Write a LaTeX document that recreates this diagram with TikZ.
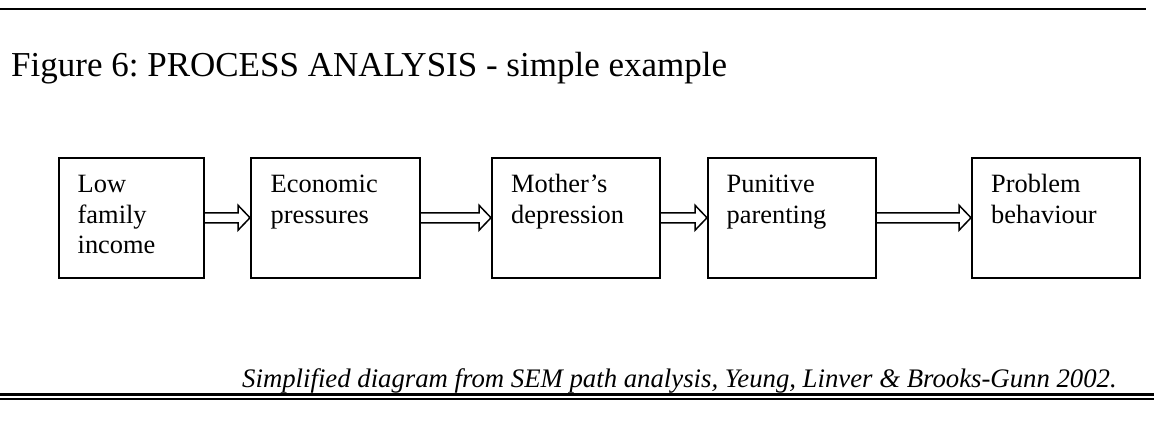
\documentclass[tikz,border=0pt]{standalone}
\usepackage{fontspec}
\setmainfont{Liberation Serif}
\usetikzlibrary{calc}
\tikzset{
  stagebox/.style={draw, line width=1.5pt, minimum height=120pt, inner sep=0pt, anchor=north west},
  stagetext/.style={anchor=base west, inner sep=0pt, font=\fontsize{26.4}{30.5}\selectfont},
  hollowarrow/.style={draw, line width=1.5pt, line join=miter},
  rule/.style={draw, line cap=butt},
}
\frenchspacing
\newcommand{\stagelines}[1]{\begin{tabular}[t]{@{}l@{}}#1\end{tabular}}
\newcommand{\hollowlink}[2]{%
  \draw[hollowarrow] ($(#1.east)+(0,-5)$) -- ($(#2.west)+(-12,-5)$) -- ($(#2.west)+(-12,-12.5)$) -- (#2.west)
    -- ($(#2.west)+(-12,12.5)$) -- ($(#2.west)+(-12,5)$) -- ($(#1.east)+(0,5)$);}
\begin{document}
\begin{tikzpicture}[x=1pt,y=-1pt]
\useasboundingbox (0,0) rectangle (1154,429);
% rules
\coordinate (tl) at (0,9);
\coordinate (tr) at (1146,9);
\draw[rule, line width=2.5pt] (tl) -- (tr);
\coordinate (bl1) at (0,394.6);
\coordinate (br1) at (1154,394.6);
\draw[rule, line width=3pt] (bl1) -- (br1);
\coordinate (bl2) at (0,399.2);
\coordinate (br2) at (1154,399.2);
\draw[rule, line width=1.5pt] (bl2) -- (br2);
% title
\node[anchor=base west, inner sep=0pt, font=\fontsize{35}{40}\selectfont] (title) at (11,76.5) {Figure 6: PROCESS ANALYSIS - simple example};
% boxes
\node[stagebox, minimum width=145pt] (b1) at (58,157) {};
\node[stagebox, minimum width=169pt] (b2) at (250,157) {};
\node[stagebox, minimum width=168pt] (b3) at (491,157) {};
\node[stagebox, minimum width=168pt] (b4) at (707,157) {};
\node[stagebox, minimum width=168pt] (b5) at (971,157) {};
% texts
\node[stagetext] (t1) at ($(b1.north west)+(19.5,35.5)$) {\stagelines{Low\\family\\income}};
\node[stagetext] (t2) at ($(b2.north west)+(20.5,35.5)$) {\stagelines{Economic\\pressures}};
\node[stagetext] (t3) at ($(b3.north west)+(20,35.5)$) {\stagelines{Mother’s\\depression}};
\node[stagetext] (t4) at ($(b4.north west)+(19.5,35.5)$) {\stagelines{Punitive\\parenting}};
\node[stagetext] (t5) at ($(b5.north west)+(20,35.5)$) {\stagelines{Problem\\behaviour}};
% arrows
\hollowlink{b1}{b2}
\hollowlink{b2}{b3}
\hollowlink{b3}{b4}
\hollowlink{b4}{b5}
% caption
\node[anchor=base west, inner sep=0pt, font=\fontsize{26.75}{30}\selectfont\itshape] (cap) at (242,387.5) {Simplified diagram from SEM path analysis, Yeung, Linver \& Brooks-Gunn 2002.};
\end{tikzpicture}
\end{document}
